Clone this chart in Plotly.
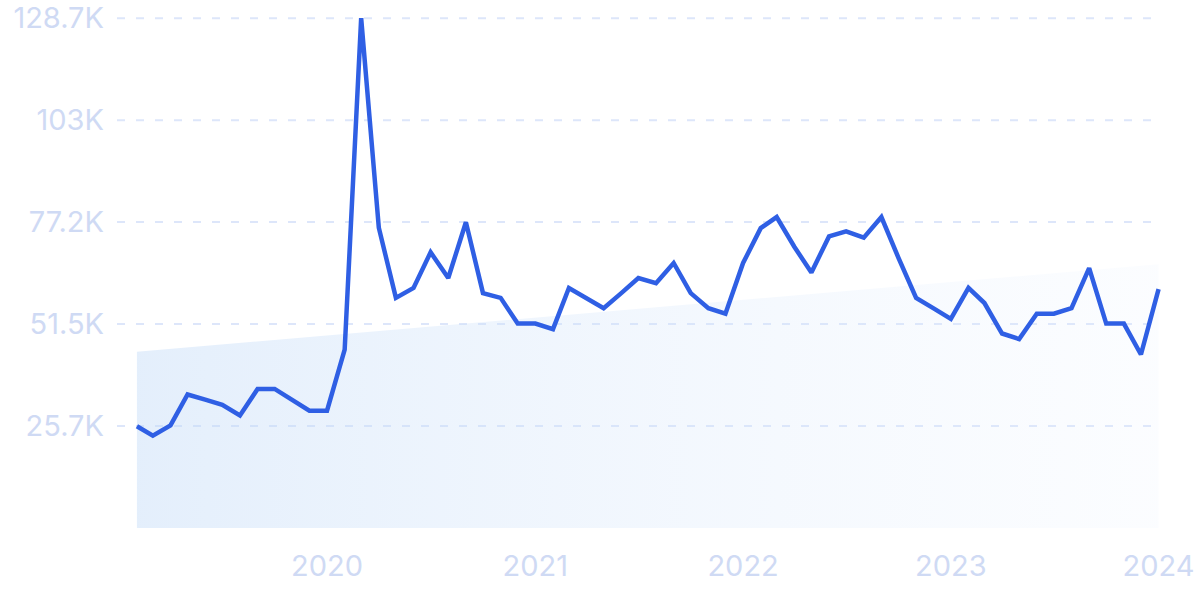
import plotly.graph_objects as go
import pandas as pd

# Monthly values (Feb 2019 - Jan 2024)
values_2019 = [25700, 23300, 25900, 33700, 32400, 31100, 28400, 35100, 35100, 32400, 29600]  # Feb-Dec
values_2020 = [29600, 45000, 128700, 75800, 58100, 60600, 69600, 63100, 77200, 59300, 58100, 51600]
values_2021 = [51600, 50200, 60600, 58100, 55500, 59300, 63100, 61800, 66900, 59300, 55500, 54100]
values_2022 = [66900, 75700, 78500, 71000, 64500, 73600, 74900, 73300, 78500, 68200, 58100, 55500]
values_2023 = [52800, 60600, 56800, 49100, 47700, 54100, 54100, 55500, 65600, 51600, 51600, 43800]
values_2024 = [60300]  # Jan

values = values_2019 + values_2020 + values_2021 + values_2022 + values_2023 + values_2024
months = pd.date_range("2019-02-01", periods=len(values), freq="MS")

# Trend line (start / end)
trend_x = ["2019-02-01", "2024-01-01"]
trend_y = [44500, 66600]

# Axis ticks
y_tickvals = [25740, 51480, 77220, 102960, 128700]
y_ticktext = ["25.7K", "51.5K", "77.2K", "103K", "128.7K"]
x_tickvals = ["2020-01-01", "2021-01-01", "2022-01-01", "2023-01-01", "2024-01-01"]
x_ticktext = ["2020", "2021", "2022", "2023", "2024"]

label_color = "#cfdaf4"
grid_color = "#dde6fa"
line_color = "#2f5fe4"

fig = go.Figure()

fig.add_trace(go.Scatter(
    x=trend_x, y=trend_y, mode="lines",
    line=dict(width=0, color="rgba(0,0,0,0)"),
    fill="tozeroy",
    fillgradient=dict(
        type="horizontal",
        colorscale=[[0, "rgba(190,216,247,0.42)"], [1, "rgba(230,240,254,0.15)"]],
    ),
    hoverinfo="skip", showlegend=False,
))

fig.add_trace(go.Scatter(
    x=months, y=values, mode="lines",
    line=dict(color=line_color, width=4.5),
    showlegend=False,
))

shapes = []
for v in y_tickvals:
    shapes.append(dict(
        type="line", xref="paper", yref="y", x0=0, x1=0.990, y0=v, y1=v,
        line=dict(color=grid_color, width=2, dash="8px,11px"), layer="below",
    ))

fig.update_layout(
    width=1200, height=600,
    margin=dict(l=117, r=38, t=9.1, b=71.5, autoexpand=False),
    paper_bgcolor="white", plot_bgcolor="white",
    font=dict(family="Inter", size=29, color=label_color),
    shapes=shapes,
    xaxis=dict(
        type="date",
        range=["2018-12-28", "2024-01-07"],
        tickvals=x_tickvals, ticktext=x_ticktext,
        showgrid=False, zeroline=False, showline=False, ticks="",
        ticklabelstandoff=18,
        tickfont=dict(family="Inter", size=29, color=label_color),
        automargin=False, fixedrange=True,
    ),
    yaxis=dict(
        range=[0, 131021],
        tickvals=y_tickvals, ticktext=y_ticktext,
        showgrid=False, zeroline=False, showline=False, ticks="",
        ticklabelstandoff=12,
        tickfont=dict(family="Inter", size=29, color=label_color),
        automargin=False, fixedrange=True,
    ),
)

fig.write_html(
    "out.html",
    config={"displayModeBar": False},
    post_script="document.body.style.margin='0';document.body.style.padding='0';",
)
